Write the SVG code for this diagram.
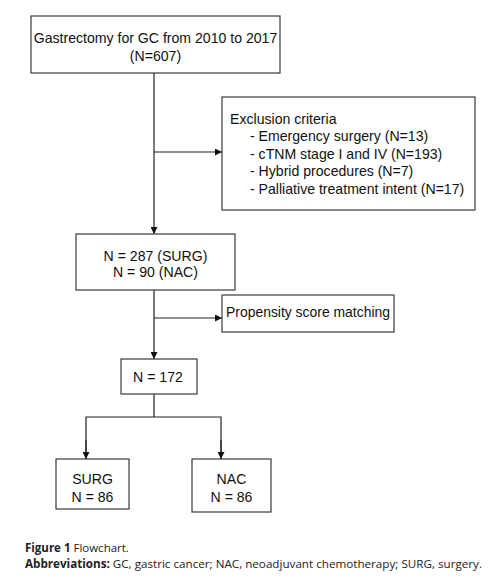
<svg xmlns="http://www.w3.org/2000/svg" width="492" height="588" viewBox="0 0 492 588">
<defs>
<style>
.box{fill:#fff;stroke:#3a3a3a;stroke-width:1.2}
.t{font-family:"Liberation Sans",Arial,sans-serif;font-size:14.1px;fill:#111}
.c{text-anchor:middle}
.ln{fill:none;stroke:#222;stroke-width:1.2}
.cap{font-family:"Open Sans","Liberation Sans",sans-serif;font-size:11.5px;fill:#222}
</style>
<marker id="ah" viewBox="0 0 10 10" refX="10" refY="5" markerWidth="7" markerHeight="7" markerUnits="userSpaceOnUse" orient="auto">
<path d="M0,0 L10,5 L0,10 z" fill="#111"/>
</marker>
</defs>
<rect width="492" height="588" fill="#fff"/>
<g id="connectors">
<path class="ln" d="M154,73 V234" marker-end="url(#ah)"/>
<path class="ln" d="M154,152 H222" marker-end="url(#ah)"/>
<path class="ln" d="M154,290 V359" marker-end="url(#ah)"/>
<path class="ln" d="M154,318 H222" marker-end="url(#ah)"/>
<path class="ln" d="M154,394 V417"/>
<path class="ln" d="M86,459 V417 H221 V459" />
<path class="ln" d="M86,440 V459" marker-end="url(#ah)"/>
<path class="ln" d="M221,440 V459" marker-end="url(#ah)"/>
</g>
<g id="n1">
<rect class="box" x="31" y="16" width="249" height="57"/>
<text class="t c" x="155.5" y="43">Gastrectomy for GC from 2010 to 2017</text>
<text class="t c" x="155.5" y="61">(N=607)</text>
</g>
<g id="n2">
<rect class="box" x="222" y="97" width="253" height="113"/>
<text class="t" x="230" y="124">Exclusion criteria</text>
<text class="t" x="250" y="141">- Emergency surgery (N=13)</text>
<text class="t" x="250" y="158.5">- cTNM stage I and IV (N=193)</text>
<text class="t" x="250" y="176">- Hybrid procedures (N=7)</text>
<text class="t" x="250" y="193.5">- Palliative treatment intent (N=17)</text>
</g>
<g id="n3">
<rect class="box" x="76" y="234" width="159" height="56"/>
<text class="t c" x="155.5" y="261">N = 287 (SURG)</text>
<text class="t c" x="155.5" y="277">N = 90 (NAC)</text>
</g>
<g id="n4">
<rect class="box" x="222" y="295" width="172" height="37"/>
<text class="t" x="226" y="317" textLength="164" lengthAdjust="spacingAndGlyphs">Propensity score matching</text>
</g>
<g id="n5">
<rect class="box" x="121" y="359" width="76" height="35"/>
<text class="t c" x="158" y="382">N = 172</text>
</g>
<g id="n6">
<rect class="box" x="56" y="459" width="73" height="50"/>
<text class="t c" x="92.5" y="484">SURG</text>
<text class="t c" x="92.5" y="502">N = 86</text>
</g>
<g id="n7">
<rect class="box" x="192" y="459" width="79" height="53"/>
<text class="t c" x="231.5" y="484">NAC</text>
<text class="t c" x="231.5" y="502">N = 86</text>
</g>
<g id="caption">
<text class="cap" x="25" y="552"><tspan font-weight="bold">Figure 1</tspan> Flowchart.</text>
<text class="cap" x="25" y="568" textLength="457" lengthAdjust="spacingAndGlyphs"><tspan font-weight="bold">Abbreviations:</tspan> GC, gastric cancer; NAC, neoadjuvant chemotherapy; SURG, surgery.</text>
</g>
</svg>
